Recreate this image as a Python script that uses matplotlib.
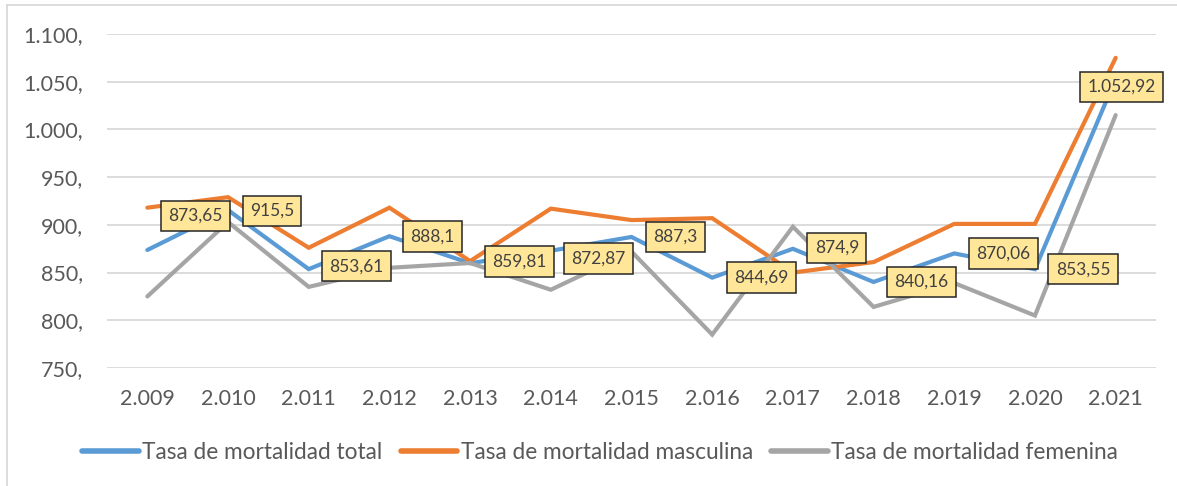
import matplotlib
matplotlib.use("Agg")
import matplotlib.pyplot as plt
from matplotlib.lines import Line2D

plt.rcParams['font.family'] = ['Lato', 'DejaVu Sans']

# ------------------------------------------------------------
# data
# ------------------------------------------------------------
years = ['2.009', '2.010', '2.011', '2.012', '2.013', '2.014', '2.015',
         '2.016', '2.017', '2.018', '2.019', '2.020', '2.021']
total = [873.65, 915.5, 853.61, 888.1, 859.81, 872.87, 887.3,
         844.69, 874.9, 840.16, 870.06, 853.55, 1052.92]
masculina = [918, 929, 876, 918, 862, 917, 905,
             907, 850, 861, 901, 901, 1075]
femenina = [825, 903, 835, 855, 860, 832, 872,
            785, 898, 814, 839, 805, 1015]
yticks = [750, 800, 850, 900, 950, 1000, 1050, 1100]

# label offsets (pixels) for the data labels of the total series
label_offsets = [(48, 34), (44, -1), (48, 3), (43, 0), (49, 2), (48, -8),
                 (44, 0), (49, 0), (44, 1), (48, 0), (49, 0), (48, 0), (6, -8)]

BLUE = '#5B9BD5'
ORANGE = '#ED7D31'
GRAY = '#A5A5A5'
TXT = '#595959'


def es_num(v, dec=2):
    s = f"{v:,.{dec}f}".rstrip('0').rstrip('.')
    return s.replace(',', 'X').replace('.', ',').replace('X', '.')


W, H = 1177, 486
fig = plt.figure(figsize=(W / 100, H / 100), dpi=100)
ax = fig.add_axes([107 / W, 1 - 368 / H, (1156 - 107) / W, (368 - 34) / H])

x = list(range(len(years)))
ax.plot(x, total, color=BLUE, lw=3, solid_capstyle='round', solid_joinstyle='miter', zorder=3)
ax.plot(x, masculina, color=ORANGE, lw=3, solid_capstyle='round', solid_joinstyle='miter', zorder=3)
ax.plot(x, femenina, color=GRAY, lw=3, solid_capstyle='round', solid_joinstyle='miter', zorder=3)

for xi, v, off in zip(x, total, label_offsets):
    ax.annotate(es_num(v), (xi, v), xytext=off, textcoords='offset pixels',
                ha='center', va='center', fontsize=12.5, color='#404040', zorder=5,
                bbox=dict(boxstyle='square,pad=0.42', fc='#FFE699', ec='#262626', lw=1.1))

ax.set_xlim(-0.5, len(years) - 0.5)
ax.set_ylim(750, 1100)
ax.set_yticks(yticks)
ax.set_yticklabels([es_num(t) + ',' for t in yticks])
ax.set_xticks(x)
ax.set_xticklabels(years)
ax.tick_params(length=0, labelsize=15.5, colors=TXT)
ax.tick_params(axis='x', pad=15)
ax.tick_params(axis='y', pad=17)
ax.grid(axis='y', color='#D9D9D9', lw=1.3)
ax.set_axisbelow(True)
for s in ax.spines.values():
    s.set_visible(False)

handles = [Line2D([], [], color=c, lw=4, solid_capstyle='round') for c in (BLUE, ORANGE, GRAY)]
fig.legend(handles, ['Tasa de mortalidad total', 'Tasa de mortalidad masculina',
                     'Tasa de mortalidad femenina'],
           loc='center', bbox_to_anchor=(600 / W, 1 - 452 / H), ncol=3, frameon=False,
           fontsize=16.3, handlelength=2.5, handletextpad=0.15, columnspacing=0.8,
           labelcolor=TXT)

# chart area border (left and top edges visible)
fig.add_artist(Line2D([7 / W, 7 / W], [0, 1 - 5 / H], transform=fig.transFigure,
                      color='#D9D9D9', lw=1.3))
fig.add_artist(Line2D([7 / W, 1], [1 - 5 / H, 1 - 5 / H], transform=fig.transFigure,
                      color='#D9D9D9', lw=1.3))

fig.savefig('out.png', dpi=100)
